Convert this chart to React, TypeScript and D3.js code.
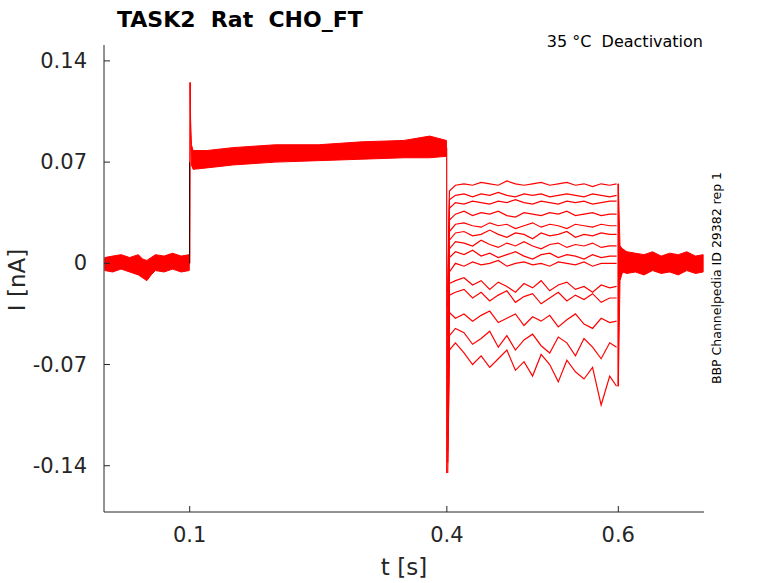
import * as d3 from "d3";

// time grid for the deactivation step (s)
const stepT = [0.401, 0.403, 0.41, 0.42, 0.43, 0.44, 0.45, 0.46, 0.47, 0.48, 0.49, 0.5, 0.51, 0.52, 0.53, 0.54, 0.55, 0.56, 0.57, 0.58, 0.59, 0.598];
// each sweep's current (nA) on stepT
const sweeps = [
  [-0.02, 0.05, 0.054, 0.055, 0.054, 0.056, 0.055, 0.054, 0.057, 0.055, 0.054, 0.055, 0.056, 0.054, 0.055, 0.056, 0.054, 0.055, 0.053, 0.055, 0.054, 0.055],
  [-0.03, 0.044, 0.047, 0.048, 0.046, 0.048, 0.047, 0.049, 0.047, 0.046, 0.048, 0.047, 0.048, 0.046, 0.047, 0.048, 0.047, 0.046, 0.048, 0.047, 0.046, 0.047],
  [-0.04, 0.038, 0.042, 0.041, 0.043, 0.042, 0.041, 0.043, 0.042, 0.044, 0.042, 0.041, 0.043, 0.042, 0.041, 0.043, 0.042, 0.043, 0.041, 0.042, 0.043, 0.043],
  [-0.05, 0.03, 0.034, 0.036, 0.033, 0.035, 0.034, 0.036, 0.033, 0.032, 0.035, 0.034, 0.033, 0.035, 0.034, 0.036, 0.033, 0.034, 0.035, 0.033, 0.034, 0.034],
  [-0.06, 0.022, 0.027, 0.028, 0.026, 0.025, 0.028, 0.026, 0.027, 0.024, 0.026, 0.028, 0.025, 0.027, 0.026, 0.024, 0.027, 0.026, 0.025, 0.027, 0.026, 0.026],
  [-0.07, 0.016, 0.021, 0.022, 0.019, 0.02, 0.023, 0.02, 0.018, 0.021, 0.02, 0.017, 0.021, 0.019, 0.02, 0.022, 0.018, 0.02, 0.019, 0.021, 0.02, 0.02],
  [-0.08, 0.01, 0.015, 0.014, 0.012, 0.016, 0.013, 0.011, 0.014, 0.012, 0.015, 0.012, 0.01, 0.013, 0.014, 0.011, 0.013, 0.012, 0.014, 0.011, 0.012, 0.012],
  [-0.09, 0.004, 0.008, 0.006, 0.009, 0.005, 0.007, 0.004, 0.006, 0.008, 0.005, 0.003, 0.006, 0.007, 0.004, 0.006, 0.005, 0.003, 0.006, 0.004, 0.005, 0.005],
  [-0.1, -0.006, 0.0, -0.002, 0.001, -0.001, 0.0, 0.002, -0.002, 0.0, 0.001, -0.001, 0.0, -0.002, 0.001, 0.0, -0.001, 0.001, -0.002, 0.0, 0.0, 0.0],
  [-0.11, -0.014, -0.012, -0.01, -0.015, -0.012, -0.018, -0.013, -0.016, -0.02, -0.014, -0.017, -0.012, -0.019, -0.015, -0.013, -0.018, -0.016, -0.02, -0.015, -0.017, -0.016],
  [-0.12, -0.022, -0.02, -0.018, -0.024, -0.02, -0.026, -0.022, -0.019, -0.027, -0.023, -0.021, -0.028, -0.024, -0.02, -0.026, -0.022, -0.025, -0.021, -0.027, -0.024, -0.024],
  [-0.13, -0.034, -0.038, -0.035, -0.04, -0.036, -0.033, -0.041, -0.038, -0.035, -0.043, -0.037, -0.04, -0.036, -0.044, -0.039, -0.035, -0.042, -0.045, -0.038, -0.041, -0.04],
  [-0.138, -0.05, -0.045, -0.048, -0.056, -0.052, -0.047, -0.058, -0.05, -0.06, -0.053, -0.049, -0.057, -0.062, -0.051, -0.055, -0.064, -0.052, -0.058, -0.066, -0.055, -0.058],
  [-0.145, -0.06, -0.055, -0.062, -0.07, -0.064, -0.072, -0.066, -0.06, -0.074, -0.068, -0.078, -0.063, -0.07, -0.082, -0.067, -0.075, -0.08, -0.072, -0.098, -0.078, -0.085],
];
// envelope of the overlapping sweeps outside the step
const bandT = [0.001, 0.01, 0.02, 0.03, 0.04, 0.045, 0.05, 0.055, 0.06, 0.07, 0.08, 0.09, 0.0995];
const bandLo = [-0.005, -0.006, -0.004, -0.006, -0.008, -0.01, -0.012, -0.008, -0.005, -0.006, -0.004, -0.006, -0.005];
const bandHi = [0.004, 0.005, 0.006, 0.004, 0.006, 0.003, 0.002, 0.004, 0.006, 0.005, 0.007, 0.005, 0.006];
const preT = [0.1, 0.1005, 0.101, 0.102, 0.104, 0.12, 0.15, 0.2, 0.25, 0.3, 0.35, 0.38, 0.3995];
const preLo = [0.0, 0.125, 0.09, 0.068, 0.065, 0.066, 0.068, 0.07, 0.071, 0.072, 0.073, 0.073, 0.074];
const preHi = [0.006, 0.125, 0.1, 0.082, 0.078, 0.078, 0.08, 0.082, 0.082, 0.084, 0.085, 0.088, 0.085];
const postT = [0.6, 0.602, 0.605, 0.61, 0.62, 0.63, 0.64, 0.65, 0.66, 0.67, 0.68, 0.69, 0.699];
const postLo = [-0.085, -0.012, -0.006, -0.007, -0.006, -0.008, -0.005, -0.007, -0.006, -0.008, -0.005, -0.007, -0.006];
const postHi = [0.055, 0.012, 0.01, 0.008, 0.007, 0.006, 0.008, 0.005, 0.007, 0.006, 0.008, 0.005, 0.006];

const xTicks = [0.1, 0.4, 0.6];
const yTicks = [-0.14, -0.07, 0, 0.07, 0.14];

export default function App() {
  const W = 778, H = 583;
  const m = { l: 104, r: 704, t: 45, b: 512 };
  const x = d3.scaleLinear().domain([0, 0.7]).range([m.l, m.r]);
  const y = d3.scaleLinear().domain([-0.172, 0.151]).range([m.b, m.t]);
  const red = "#ff0000";
  const band = (t: number[], lo: number[], hi: number[]) =>
    d3.area<number>().x((_, i) => x(t[i])).y0((_, i) => y(lo[i])).y1((_, i) => y(hi[i]))(t)!;
  const line = d3.line<number>().x((_, i) => x(stepT[i])).y((v) => y(v));
  const txt = "#262626";
  return (
    <svg width={W} height={H} style={{ display: "block", position: "absolute", left: 0, top: 0, fontFamily: "DejaVu Sans, sans-serif" }}>
      <rect width={W} height={H} fill="#fff" />
      <path d={band(bandT, bandLo, bandHi)} fill={red} stroke={red} strokeWidth={1} />
      <path d={band(preT, preLo, preHi)} fill={red} stroke={red} strokeWidth={1} />
      <path d={band(postT, postLo, postHi)} fill={red} stroke={red} strokeWidth={1} />
      <line x1={x(0.0998)} x2={x(0.0998)} y1={y(0)} y2={y(0.07)} stroke="#000" strokeWidth={0.8} />
      <line x1={x(0.3998)} x2={x(0.3998)} y1={y(0.08)} y2={y(-0.145)} stroke={red} strokeWidth={1.2} />
      {sweeps.map((s, i) => (
        <path key={i} d={line(s)!} fill="none" stroke={red} strokeWidth={1.2} />
      ))}
      <line x1={x(0.6)} x2={x(0.6)} y1={y(0.055)} y2={y(-0.085)} stroke={red} strokeWidth={1.5} />
      <line x1={m.l} x2={m.l} y1={m.t} y2={m.b} stroke={txt} />
      <line x1={m.l} x2={m.r} y1={m.b} y2={m.b} stroke={txt} />
      {yTicks.map((v) => (
        <g key={v}>
          <line x1={m.l} x2={m.l + 6} y1={y(v)} y2={y(v)} stroke={txt} />
          <text x={m.l - 17} y={y(v) + 7} textAnchor="end" fontSize={21} fill={txt}>{v === 0 ? "0" : String(v)}</text>
        </g>
      ))}
      {xTicks.map((v) => (
        <g key={v}>
          <line x1={x(v)} x2={x(v)} y1={m.b} y2={m.b - 6} stroke={txt} />
          <text x={x(v)} y={m.b + 30} textAnchor="middle" fontSize={21} fill={txt}>{v}</text>
        </g>
      ))}
      <text x={404} y={575} textAnchor="middle" fontSize={23} fill={txt}>t [s]</text>
      <text transform="translate(25,280) rotate(-90)" textAnchor="middle" fontSize={23} fill={txt}>I [nA]</text>
      <text x={117} y={27} fontSize={22} fontWeight="bold" fill="#000" style={{ whiteSpace: "pre" }}>TASK2  Rat  CHO_FT</text>
      <text x={703} y={47} textAnchor="end" fontSize={16} fill="#000" style={{ whiteSpace: "pre" }}>35 °C  Deactivation</text>
      <text transform="translate(721,278) rotate(-90)" textAnchor="middle" fontSize={12.5} fill="#000">BBP Channelpedia ID 29382 rep 1</text>
    </svg>
  );
}
